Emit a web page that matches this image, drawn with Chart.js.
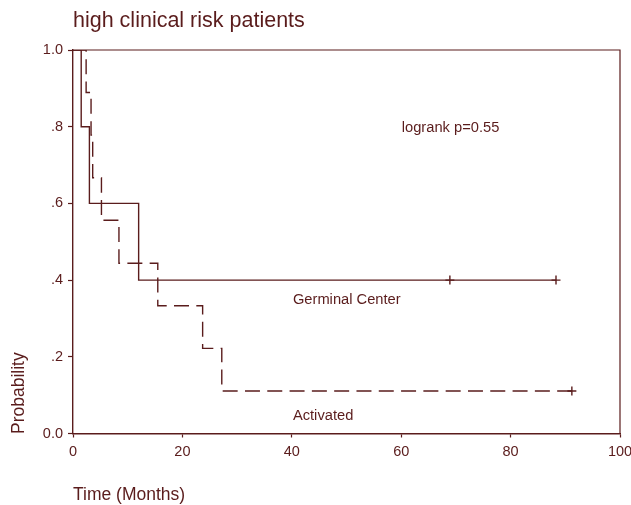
<!DOCTYPE html>
<html>
<head>
<meta charset="utf-8" />
<script src="https://cdn.jsdelivr.net/npm/chart.js"></script>
<style>
    body { margin: 0; background: white; }
    canvas { display: block; }
</style>
</head>
<body>
<canvas id="kmChart" width="631" height="505"></canvas>
<script>
// Germinal Center group: step times (months) and survival after each step
const gcTimes = [0, 1.5, 3.0, 12.0, 88.3];
const gcSurv = [1.0, 0.8, 0.6, 0.4, 0.4];
const gcCensorTimes = [68.9, 88.3];
const gcCensorSurv = [0.4, 0.4];

// Activated group
const actTimes = [0, 2.4, 3.3, 3.6, 5.2, 8.4, 15.5, 23.7, 27.2, 91.2];
const actSurv = [1.0, 0.889, 0.778, 0.667, 0.556, 0.444, 0.333, 0.222, 0.111, 0.111];
const actCensorTimes = [91.2];
const actCensorSurv = [0.111];

const xTicks = [0, 20, 40, 60, 80, 100];
const xTickLabels = ['0', '20', '40', '60', '80', '100'];
const yTicks = [0, 0.2, 0.4, 0.6, 0.8, 1.0];
const yTickLabels = ['0.0', '.2', '.4', '.6', '.8', '1.0'];

const ink = '#5a1c1c';
const fontFamily = '"Liberation Sans", Arial, sans-serif';

function pts(xs, ys) {
    return xs.map((x, i) => ({ x: x, y: ys[i] }));
}

// frame, titles and text notes
const decor = {
    id: 'decor',
    afterDraw(chart) {
        const ctx = chart.ctx;
        const a = chart.chartArea;
        const xs = chart.scales.x, ys = chart.scales.y;
        ctx.save();
        ctx.strokeStyle = ink;
        ctx.lineWidth = 1.2;
        ctx.beginPath();
        ctx.moveTo(a.left, a.top);
        ctx.lineTo(a.right, a.top);
        ctx.lineTo(a.right, a.bottom);
        ctx.stroke();

        ctx.fillStyle = ink;
        ctx.textBaseline = 'alphabetic';
        ctx.textAlign = 'left';
        ctx.font = '21.5px ' + fontFamily;
        ctx.fillText('high clinical risk patients', 73, 27);

        ctx.font = '17.5px ' + fontFamily;
        ctx.fillText('Time (Months)', 73, 500);

        ctx.save();
        ctx.translate(24, 434);
        ctx.rotate(-Math.PI / 2);
        ctx.fillText('Probability', 0, 0);
        ctx.restore();

        ctx.font = '14.7px ' + fontFamily;
        ctx.fillText('logrank p=0.55', xs.getPixelForValue(60.1), ys.getPixelForValue(0.785));
        ctx.fillText('Germinal Center', xs.getPixelForValue(40.2), ys.getPixelForValue(0.337));
        ctx.fillText('Activated', xs.getPixelForValue(40.2), ys.getPixelForValue(0.035));
        ctx.restore();
    }
};

new Chart(document.getElementById('kmChart'), {
    type: 'scatter',
    data: {
        datasets: [
            {
                label: 'Germinal Center',
                data: pts(gcTimes, gcSurv),
                showLine: true,
                stepped: 'before',
                borderColor: ink,
                borderWidth: 1.4,
                pointRadius: 0
            },
            {
                label: 'Activated',
                data: pts(actTimes, actSurv),
                showLine: true,
                stepped: 'before',
                borderColor: ink,
                borderWidth: 1.4,
                borderDash: [15, 7.3],
                pointRadius: 0
            },
            {
                label: 'GC censored',
                data: pts(gcCensorTimes, gcCensorSurv),
                pointStyle: 'cross',
                pointRadius: 4.5,
                pointBorderWidth: 1.4,
                borderColor: ink
            },
            {
                label: 'Act censored',
                data: pts(actCensorTimes, actCensorSurv),
                pointStyle: 'cross',
                pointRadius: 4.5,
                pointBorderWidth: 1.4,
                borderColor: ink
            }
        ]
    },
    options: {
        responsive: false,
        animation: false,
        devicePixelRatio: 1,
        layout: { padding: { top: 50, right: 11, left: 0, bottom: 0 } },
        plugins: {
            legend: { display: false },
            tooltip: { enabled: false }
        },
        scales: {
            x: {
                type: 'linear',
                min: 0,
                max: 100,
                afterBuildTicks(scale) { scale.ticks = xTicks.map(v => ({ value: v })); },
                afterFit(scale) {
                    scale.height = 71.5;
                    scale.paddingLeft = 0;
                    scale.paddingRight = 0;
                },
                ticks: {
                    color: ink,
                    font: { family: fontFamily, size: 14.5 },
                    padding: 6,
                    maxRotation: 0,
                    callback: (v) => xTickLabels[xTicks.indexOf(v)]
                },
                grid: { drawOnChartArea: false, tickLength: 4, tickColor: ink, tickWidth: 1.2 },
                border: { color: ink, width: 1.4 }
            },
            y: {
                type: 'linear',
                min: 0,
                max: 1,
                afterBuildTicks(scale) { scale.ticks = yTicks.map(v => ({ value: v })); },
                afterFit(scale) {
                    scale.width = 73;
                    scale.paddingTop = 0;
                    scale.paddingBottom = 0;
                },
                ticks: {
                    color: ink,
                    font: { family: fontFamily, size: 14.5 },
                    padding: 5,
                    callback: (v) => yTickLabels[yTicks.indexOf(v)]
                },
                grid: { drawOnChartArea: false, tickLength: 5, tickColor: ink, tickWidth: 1.2 },
                border: { color: ink, width: 1.4 }
            }
        }
    },
    plugins: [decor]
});
</script>
</body>
</html>
